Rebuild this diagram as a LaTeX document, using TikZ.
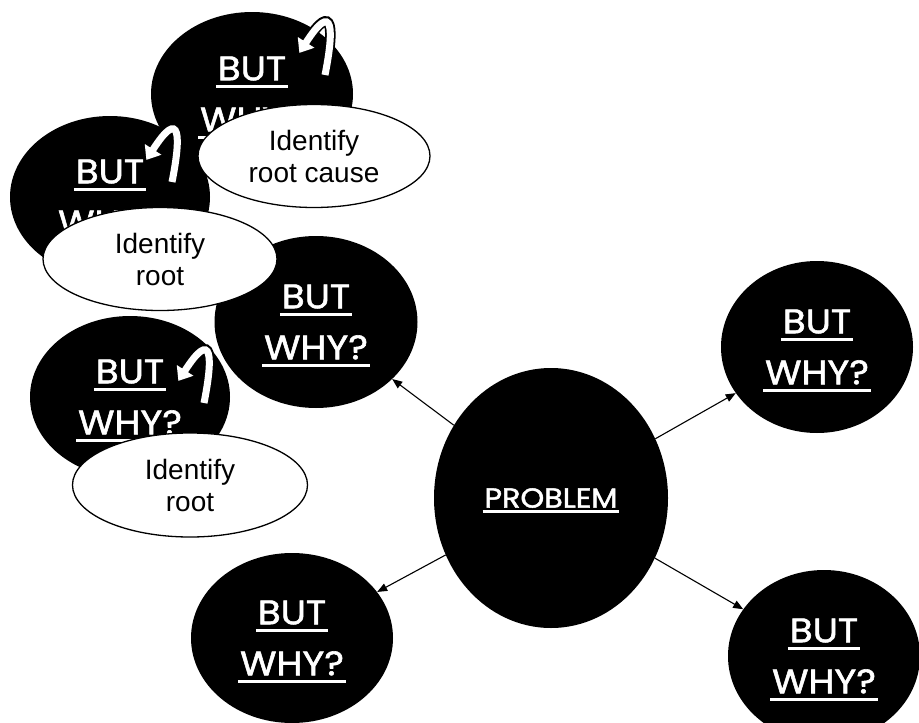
\documentclass[tikz,border=0pt]{standalone}
\usepackage{fontspec}
\setmainfont{Liberation Sans}
\newfontfamily\gothicfont{Poppins}[FakeStretch=1.1,FakeBold=1.6]
\usetikzlibrary{shapes.geometric,arrows.meta}
\newcommand\myul[2][8pt]{\setbox0=\hbox{#2}\makebox[0pt][l]{\hspace{-2pt}\smash{\rule[-#1]{\dimexpr\wd0+4pt\relax}{2.8pt}}}\box0}
\newcommand\hookarrow[1]{%
  \draw[line width=10.5pt, black, -{Triangle[length=17pt,width=25pt]}]
    ([shift={(27,20)}]#1) .. controls ([shift={(36,-25)}]#1) and ([shift={(36,-56)}]#1) .. (#1);
  \draw[line width=7pt, white, shorten >=2.5pt, -{Triangle[length=12.5pt,width=19pt]}]
    ([shift={(27,20)}]#1) .. controls ([shift={(36,-25)}]#1) and ([shift={(36,-56)}]#1) .. (#1);
}
\tikzset{
  why/.style={ellipse, fill=black, inner sep=0pt, text=white, align=center,
    font=\gothicfont\fontsize{34}{51}\selectfont},
  note/.style={ellipse, draw=black, line width=1.3pt, fill=white, inner sep=0pt,
    align=center, font=\fontsize{28}{32}\selectfont},
  link/.style={line width=1.1pt, draw=black, -{Triangle[length=10pt,width=8pt]}},
}
\begin{document}
\begin{tikzpicture}[x=1pt,y=-1pt]
\useasboundingbox (0,0) rectangle (919,723);
\clip (0,0) rectangle (919,723);
\fill[white] (0,0) rectangle (919,723);
% top stack
\node[why, minimum width=202pt, minimum height=164pt] (t1) at (252,94) {\myul{BUT}\\\myul{WHY?}};
\coordinate (h1) at (298,55);
\hookarrow{h1}
\node[why, minimum width=200pt, minimum height=162pt] (t2) at (110,197) {\myul{BUT}\\\myul{WHY?}};
\coordinate (h2) at (145,162);
\hookarrow{h2}
\node[note, minimum width=232pt, minimum height=103pt] (w1) at (314,156) {Identify\\root cause};
\node[why, minimum width=203pt, minimum height=172pt] (m) at (316,322) {\myul{BUT}\\\myul{WHY?}};
\node[note, minimum width=234pt, minimum height=103pt] (w2) at (160,259) {Identify\\root};
\node[why, minimum width=200pt, minimum height=162pt] (l) at (130,397) {\myul{BUT}\\\myul{WHY?}};
\coordinate (h3) at (177,383);
\hookarrow{h3}
\node[note, minimum width=235pt, minimum height=104pt] (w3) at (190,485) {Identify\\root};
% main
\node[why, minimum width=202pt, minimum height=170pt] (b) at (292,638) {\myul{BUT}\\\myul{WHY?}};
\node[why, minimum width=192pt, minimum height=172pt] (r1) at (817,347) {\myul{BUT}\\\myul{WHY?}};
\node[why, minimum width=192pt, minimum height=172pt] (r2) at (824,656) {\myul{BUT}\\\myul{WHY?}};
\node[why, font=\gothicfont\fontsize{27.5}{30}\selectfont, minimum width=234pt, minimum height=260pt] (p) at (551,498) {\myul[5pt]{PROBLEM}};
\draw[link] (p) -- (m);
\draw[link] (p) -- (r1);
\draw[link] (p) -- (r2);
\draw[link] (p) -- (b);
\end{tikzpicture}
\end{document}
